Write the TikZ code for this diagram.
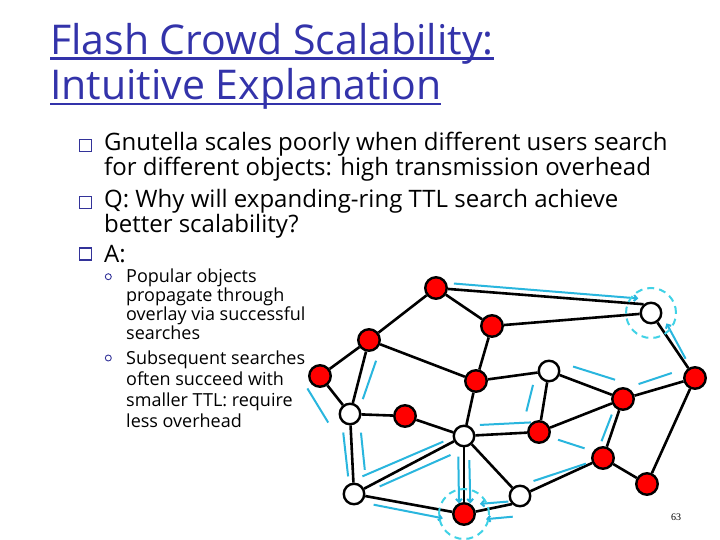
\documentclass[tikz,border=0pt]{standalone}
\usepackage{fontspec}
\setmainfont{Open Sans}
\newfontfamily\pagefont{Liberation Serif}
\usetikzlibrary{arrows.meta,calc}
\definecolor{titleblue}{RGB}{51,51,170}
\definecolor{bulletblue}{RGB}{51,51,153}
\definecolor{peerred}{RGB}{255,0,0}
\definecolor{trailblue}{RGB}{41,182,222}
\definecolor{ringblue}{RGB}{64,210,230}
\newsavebox{\ulbox}
\newcommand{\uln}[1]{\sbox{\ulbox}{#1}\rlap{\rule[-5.3pt]{\wd\ulbox}{2.6pt}}\usebox{\ulbox}}
\tikzset{
  peer/.style={circle, draw, line width=2.4pt, fill=peerred, minimum size=21.5pt, inner sep=0pt},
  idle/.style={peer, fill=white, minimum size=20.5pt},
  link/.style={line width=2.6pt},
  trail/.style={draw=trailblue, line width=2pt},
  trailto/.style={trail, -{Straight Barb[length=3pt, width=6pt]}},
  ring/.style={circle, draw=ringblue, line width=2pt, dash pattern=on 7pt off 5pt, minimum size=50pt, inner sep=0pt},
  headline/.style={anchor=base west, inner sep=0pt, align=left, text=titleblue, font=\fontsize{41}{45.5}\selectfont},
  item/.style={anchor=base west, inner sep=0pt, align=left, font=\fontsize{24}{25}\selectfont},
  subitem/.style={anchor=base west, inner sep=0pt, align=left, font=\fontsize{18}{19}\selectfont},
  box/.style={draw=bulletblue, line width=1.6pt, minimum size=12pt, inner sep=0pt},
  dot/.style={circle, draw=bulletblue, line width=0.9pt, minimum size=6pt, inner sep=0pt},
  pageno/.style={inner sep=0pt, anchor=base, font=\pagefont\fontsize{10}{12}\selectfont}
}
\newcommand{\trail}[7][trail]{%
  \draw[#1] ($(#2)!#4!(#3)!#6pt!90:(#3)$) -- ($(#2)!#5!(#3)!#7pt!90:(#3)$);}

\begin{document}
\begin{tikzpicture}[x=1pt, y=-1pt]
  \useasboundingbox[fill=white] (0,0) rectangle (720,540);

  \node[headline] (title) at (50,100) {\uln{Flash Crowd Scalability:}\\\uln{Intuitive Explanation}};

  \node[box] (bgnut) at (85.5,145.5) {};
  \node[item] (gnut) at (104,176) {Gnutella scales poorly when different users search\\for different objects: high transmission overhead};
  \node[box] (bquest) at (85.5,202.5) {};
  \node[item] (quest) at (104,233) {Q: Why will expanding-ring TTL search achieve\\better scalability?};
  \node[box] (bansw) at (85.5,254) {};
  \node[item] (answ) at (104,262) {A:};
  \node[dot] (bpop) at (108.3,276.7) {};
  \node[subitem] (pop) at (126,339) {Popular objects\\propagate through\\overlay via successful\\searches};
  \node[dot] (bsubs) at (108.3,358) {};
  \node[subitem, font=\fontsize{18}{21}\selectfont] (subs) at (126,427) {Subsequent searches\\often succeed with\\smaller TTL: require\\less overhead};

  \node[peer] (pa) at (436,288) {};
  \node[peer] (pb) at (492,326) {};
  \node[idle] (pc) at (651,313) {};
  \node[peer] (pd) at (369,340) {};
  \node[peer] (pe) at (320,376) {};
  \node[peer] (pf) at (476,381) {};
  \node[idle] (pg) at (549,371) {};
  \node[peer] (ph) at (695,378) {};
  \node[peer] (pi) at (623,399) {};
  \node[idle] (pj) at (350,414) {};
  \node[peer] (pk) at (405,416) {};
  \node[idle] (pl) at (464,436) {};
  \node[peer] (pm) at (539,432) {};
  \node[peer] (pn) at (603,458) {};
  \node[peer] (po) at (647,484) {};
  \node[idle] (pp) at (354,494) {};
  \node[peer] (pq) at (464,514) {};
  \node[idle] (pr) at (520,496) {};

  \foreach \a/\b in {pa/pb, pa/pd, pa/pc.130, pb/pc, pb/pf, pd/pe, pd/pf, pd/pj, pe/pj, pj/pk,
      pj/pp, pk/pl, pf/pl, pf/pg, pg/pm, pg/pi, pl/pm, pm/pi, pi/ph, pc/ph, pi/pn, pn/po,
      ph/po, pl/pp, pl/pq, pl/pr, pp/pq, pq/pr.225, pr/pn}
    \draw[link] (\a) -- (\b);

  \trail[trailto]{pa}{pc}{0.08}{0.934}{6.5}{13}
  \trail[trailto]{ph}{pc}{0.27}{0.78}{-3}{-7}
  \trail{pd}{pj}{0.24}{0.77}{12}{8.7}
  \trail{pe}{pj}{0.04}{0.86}{-17.6}{-22.4}
  \trail{pj}{pp}{0.227}{0.777}{-7.7}{-5}
  \trail{pj}{pp}{0.239}{0.705}{10}{12}
  \trail{pp}{pl}{0.126}{0.832}{11.7}{4.7}
  \trail{pp}{pl}{0.211}{0.833}{-5.3}{-10.5}
  \trail[trailto]{pp}{pq}{0.19}{0.82}{-7}{-8}
  \trail[trailto]{pl}{pq}{0.265}{0.863}{-5.7}{-5}
  \trail[trailto]{pl}{pq}{0.308}{0.863}{5.3}{6.3}
  \trail[trailto]{pr.225}{pq}{0.06}{0.64}{-3.2}{-6.7}
  \trail[trailto]{pr.225}{pq}{0.035}{0.58}{12.5}{9.5}
  \trail{pl}{pm}{0.22}{0.9}{10.2}{10}
  \trail{pg}{pm}{0.264}{0.705}{-13.5}{-15.8}
  \trail{pg}{pi}{0.265}{0.82}{12.7}{15.2}
  \trail{pi}{ph}{0.255}{0.721}{10}{11.3}
  \trail{pm}{pn}{0.297}{0.7}{0}{2}
  \trail{pi}{pn}{0.295}{0.753}{-5.6}{-6.8}
  \trail{pn}{pr}{0.196}{0.797}{-2}{-8}

  \node[ring] (ringc) at (pc) {};
  \node[ring] (ringq) at (pq) {};

  \node[pageno] (pagenum) at (676,520) {63};
\end{tikzpicture}
\end{document}
